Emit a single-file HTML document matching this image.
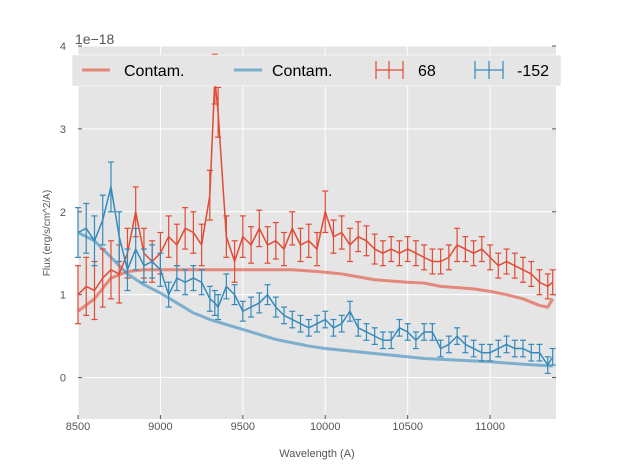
<!DOCTYPE html>
<html><head><meta charset="utf-8"><style>
body{margin:0;background:#fff;font-family:"Liberation Sans",sans-serif}
</style></head><body>
<svg id="c" width="617" height="467" xmlns="http://www.w3.org/2000/svg" font-family="Liberation Sans, sans-serif"></svg>
<script>
const wl=[8500,8550,8600,8650,8700,8750,8800,8850,8900,8950,9000,9050,9100,9150,9200,9250,9300,9330,9350,9400,9450,9500,9550,9600,9650,9700,9750,9800,9850,9900,9950,10000,10050,10100,10150,10200,10250,10300,10350,10400,10450,10500,10550,10600,10650,10700,10750,10800,10850,10900,10950,11000,11050,11100,11150,11200,11250,11300,11350,11380];
const redVals=[1.0,1.1,1.05,1.2,1.3,1.25,1.5,2.0,1.5,1.4,1.5,1.7,1.6,1.8,1.75,1.6,2.2,3.6,3.2,1.7,1.4,1.7,1.6,1.8,1.6,1.65,1.55,1.8,1.6,1.65,1.55,2.0,1.7,1.75,1.6,1.7,1.65,1.55,1.5,1.55,1.5,1.55,1.5,1.45,1.4,1.4,1.45,1.6,1.55,1.5,1.55,1.45,1.35,1.4,1.35,1.3,1.25,1.15,1.1,1.15];
const redErr=[0.35,0.35,0.35,0.35,0.35,0.35,0.3,0.3,0.3,0.25,0.25,0.25,0.25,0.25,0.25,0.25,0.3,0.3,0.3,0.25,0.25,0.25,0.22,0.22,0.22,0.22,0.2,0.2,0.2,0.2,0.2,0.25,0.2,0.2,0.2,0.18,0.18,0.18,0.15,0.15,0.15,0.15,0.15,0.15,0.15,0.15,0.15,0.2,0.15,0.15,0.15,0.15,0.15,0.15,0.15,0.15,0.15,0.15,0.15,0.15];
const blueVals=[1.75,1.8,1.65,1.9,2.3,1.7,1.3,1.55,1.35,1.4,1.3,1.0,1.2,1.15,1.2,1.15,0.95,0.9,0.85,1.1,1.0,0.8,0.85,0.9,1.0,0.85,0.75,0.7,0.65,0.6,0.65,0.7,0.6,0.65,0.8,0.6,0.55,0.5,0.45,0.45,0.6,0.55,0.45,0.55,0.55,0.35,0.4,0.5,0.4,0.35,0.3,0.3,0.35,0.4,0.35,0.35,0.3,0.3,0.15,0.25];
const blueErr=[0.3,0.3,0.3,0.3,0.3,0.3,0.25,0.25,0.2,0.2,0.2,0.15,0.15,0.15,0.15,0.15,0.15,0.15,0.15,0.15,0.12,0.12,0.12,0.12,0.12,0.12,0.1,0.1,0.1,0.1,0.1,0.1,0.1,0.1,0.12,0.1,0.1,0.1,0.1,0.1,0.1,0.1,0.1,0.1,0.1,0.1,0.1,0.1,0.1,0.1,0.1,0.1,0.1,0.1,0.1,0.1,0.1,0.1,0.1,0.1];
const contWl=[8500,8600,8700,8800,8900,9000,9200,9500,9800,9950,10000,10100,10300,10500,10600,10700,10900,11000,11100,11200,11300,11350,11380];
const contRed=[0.8,0.95,1.2,1.28,1.3,1.3,1.3,1.3,1.3,1.28,1.27,1.25,1.18,1.15,1.14,1.1,1.07,1.04,1.0,0.95,0.87,0.85,0.95];
const contBlueWl=[8500,8600,8700,8800,8900,9000,9100,9200,9300,9400,9500,9600,9700,9800,9900,10000,10200,10400,10600,10800,11000,11200,11380];
const contBlue=[1.75,1.65,1.45,1.25,1.12,1.02,0.9,0.78,0.7,0.64,0.58,0.52,0.46,0.42,0.38,0.35,0.31,0.27,0.23,0.21,0.19,0.16,0.14];
const xTicks=[8500,9000,9500,10000,10500,11000];
const yTicks=[0,1,2,3,4];

const L=78,R=556,T=46,B=419,X0=8500,X1=11400,Y0=-0.5,Y1=4;
const sx=v=>L+(v-X0)/(X1-X0)*(R-L), sy=v=>B-(v-Y0)/(Y1-Y0)*(B-T);
const svg=document.getElementById('c'),NS='http://www.w3.org/2000/svg';
function mk(t,a,p){const e=document.createElementNS(NS,t);for(const k in a)e.setAttribute(k,a[k]);(p||svg).appendChild(e);return e;}
let e=mk('rect',{x:L,y:T,width:R-L,height:B-T,fill:'#e5e5e5'});


xTicks.forEach(v=>{mk('line',{x1:sx(v),x2:sx(v),y1:T,y2:B,stroke:'#fff','stroke-width':1});
 mk('line',{x1:sx(v),x2:sx(v),y1:B,y2:B-4,stroke:'#555'});
 const t=mk('text',{x:sx(v),y:B+11,'text-anchor':'middle','font-size':11,fill:'#555'});t.textContent=v;
 
 });
yTicks.forEach(v=>{mk('line',{x1:L,x2:R,y1:sy(v),y2:sy(v),stroke:'#fff','stroke-width':1});
 mk('line',{x1:L,x2:L+4,y1:sy(v),y2:sy(v),stroke:'#555'});mk('line',{x1:R,x2:R-4,y1:sy(v),y2:sy(v),stroke:'#555'});
 const t=mk('text',{x:L-12,y:sy(v)+4,'text-anchor':'end','font-size':11,fill:'#555'});t.textContent=v;
 
 });
function line(xs,ys,col,w,op,name){const p=mk('polyline',{points:xs.map((x,i)=>sx(x)+','+sy(ys[i])).join(' '),fill:'none',stroke:col,'stroke-width':w,opacity:op,'stroke-linejoin':'round'});
 
 }
function errs(ys,er,col,name){const g=mk('g',{stroke:col,'stroke-width':1.2});
 
 
 wl.forEach((x,i)=>{const X=sx(x),a=sy(ys[i]+er[i]),b=sy(ys[i]-er[i]);
 mk('line',{x1:X,x2:X,y1:a,y2:b},g);mk('line',{x1:X-3,x2:X+3,y1:a,y2:a},g);mk('line',{x1:X-3,x2:X+3,y1:b,y2:b},g);});
 line(wl,ys,col,1.5,1,name+'-line');}
line(contWl,contRed,'#E24A33',3,0.6,'contam-red-line');
line(contBlueWl,contBlue,'#348ABD',3,0.6,'contam-blue-line');
errs(redVals,redErr,'#E24A33','series-68');
errs(blueVals,blueErr,'#348ABD','series-152');
</script>
<svg width="617" height="467" style="position:absolute;left:0;top:0" font-family="Liberation Sans, sans-serif">
<text x="75" y="44" font-size="14" fill="#555">1e−18</text>
<text x="317" y="457" font-size="11" fill="#555" text-anchor="middle">Wavelength (A)</text>
<text transform="translate(50,233) rotate(-90)" font-size="10" fill="#555" text-anchor="middle">Flux (erg/s/cm^2/A)</text>
<g>
<rect x="72" y="55" width="489" height="31" fill="#e5e5e5" stroke="#fff" stroke-width="0.5"/>
<line x1="82" x2="110" y1="70" y2="70" stroke="#E24A33" stroke-width="3" opacity="0.6"/>
<text x="124" y="76" font-size="16" fill="#000">Contam.</text>
<line x1="234" x2="262" y1="70" y2="70" stroke="#348ABD" stroke-width="3" opacity="0.6"/>
<text x="272" y="76" font-size="16" fill="#000">Contam.</text>
<g stroke="#E24A33" stroke-width="1.2"><line x1="376" x2="403" y1="70" y2="70"/><line x1="389" x2="389" y1="61" y2="79"/><line x1="376" x2="376" y1="61" y2="79"/><line x1="403" x2="403" y1="61" y2="79"/></g>
<text x="418" y="76" font-size="16" fill="#000">68</text>
<g stroke="#348ABD" stroke-width="1.2"><line x1="475" x2="503" y1="70" y2="70"/><line x1="489" x2="489" y1="61" y2="79"/><line x1="475" x2="475" y1="61" y2="79"/><line x1="503" x2="503" y1="61" y2="79"/></g>
<text x="517" y="76" font-size="16" fill="#000">-152</text>
</g>
</svg>
</body></html>
